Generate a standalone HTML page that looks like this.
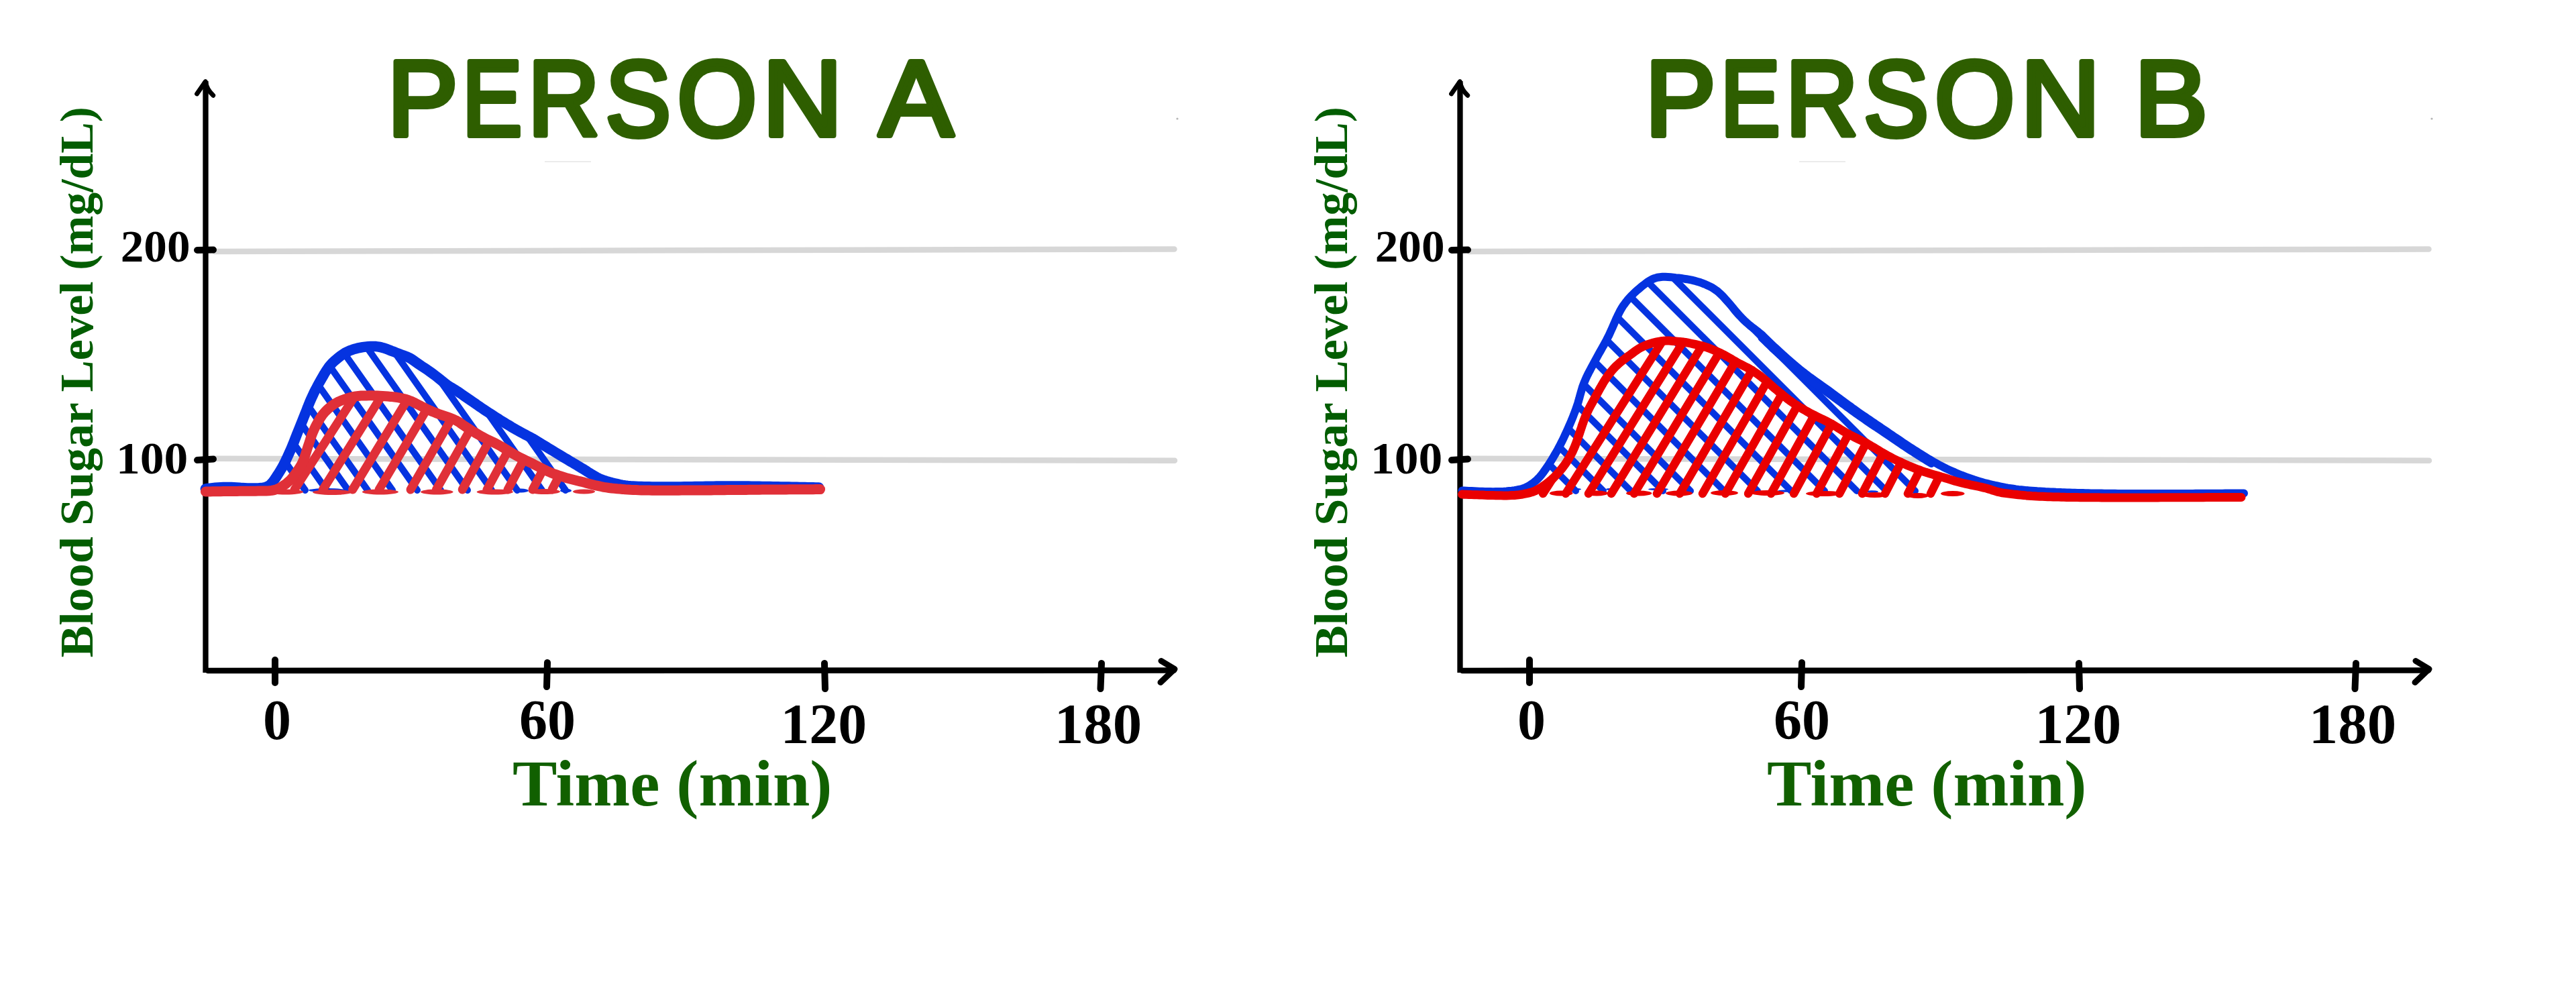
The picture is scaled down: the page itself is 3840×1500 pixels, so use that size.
<!DOCTYPE html>
<html><head><meta charset="utf-8"><title>Person A vs Person B: Blood Sugar</title>
<style>
html,body{margin:0;padding:0;background:#fff;width:3840px;height:1500px;overflow:hidden}
svg{display:block}
.title{font-family:"Liberation Sans",sans-serif;font-weight:normal;fill:#2e5e00;stroke:#2e5e00;stroke-width:8;stroke-linejoin:round;stroke-linecap:round;font-size:160px}
.tick{font-family:"Liberation Serif",serif;font-weight:bold;fill:#000}
.lab{font-family:"Liberation Serif",serif;font-weight:bold;fill:#116000}
.laby{font-family:"Liberation Serif",serif;font-weight:bold;fill:#035d02}
.ax{stroke:#000;stroke-width:8.7;fill:none;stroke-linecap:round;stroke-linejoin:round}
.axy{stroke:#000;stroke-width:8.3;fill:none;stroke-linecap:butt}
.arr{stroke:#000;stroke-width:6.8;fill:none;stroke-linecap:round;stroke-linejoin:round}
.arr2{stroke:#000;stroke-width:9;fill:none;stroke-linecap:round;stroke-linejoin:round}
.tk{stroke:#000;stroke-width:10;fill:none;stroke-linecap:round}
.grid{stroke:#d7d7d7;stroke-width:8.5;stroke-linecap:round}
.faint{stroke:#ebebeb;stroke-width:2}
path.bcA,path.bcB,path.rcA,path.rcB,path.bhA,path.bhB,path.rhA,path.rhB,path.bc2B{fill:none;stroke-linecap:round;stroke-linejoin:round}
.bcA{stroke:#0533e0;stroke-width:15.5}
.bhA{stroke:#0533e0;stroke-width:10}
.rcA{stroke:#e03038;stroke-width:15}
.rhA{stroke:#e03038;stroke-width:13}
.rdA{fill:#e03038}
.bdA{fill:#0533e0}
.bcB{stroke:#0533e0;stroke-width:12}
.bc2B{stroke:#0533e0;stroke-width:10}
.bhB{stroke:#0533e0;stroke-width:10}
.rcB{stroke:#ea0000;stroke-width:13}
.rhB{stroke:#ea0000;stroke-width:12.5}
.rdB{fill:#ea0000}
.bdB{fill:#0533e0}
</style></head>
<body>
<svg width="3840" height="1500" viewBox="0 0 3840 1500">

<g id="staticA">
  <line class="grid" x1="320" y1="375" x2="1750.5" y2="371.5"/>
  <line class="grid" x1="320" y1="683.8" x2="1751" y2="686.7"/>
  <line class="faint" x1="812" y1="241" x2="881" y2="241"/>
  <circle cx="1755" cy="177" r="1.6" fill="#b5b5b5"/>
  <text class="title" y="201.5"><tspan x="577.4" textLength="105.0" lengthAdjust="spacingAndGlyphs">P</tspan><tspan x="689.1" textLength="89.3" lengthAdjust="spacingAndGlyphs">E</tspan><tspan x="787.0" textLength="106.9" lengthAdjust="spacingAndGlyphs">R</tspan><tspan x="902.6" textLength="97.4" lengthAdjust="spacingAndGlyphs">S</tspan><tspan x="1009.4" textLength="118.7" lengthAdjust="spacingAndGlyphs">O</tspan><tspan x="1136.6" textLength="119.4" lengthAdjust="spacingAndGlyphs">N</tspan> <tspan x="1310.5" textLength="110.3" lengthAdjust="spacingAndGlyphs">A</tspan></text>
  <path class="axy" d="M306.5,121 L306.5,1003"/>
  <path class="arr" d="M293.5,140 L306.3,121.5 Q308,133 317.8,142.3"/>
  <path class="ax" d="M310,1000 L1750,999.5"/>
  <path class="arr2" d="M1731,985.5 L1751,997.5 L1730,1017.5"/>
  <path class="tk" d="M294,373 L318,372.5"/>
  <path class="tk" d="M294,686 L318,684.5"/>
  <path class="tk" d="M410,984 L410,1018"/>
  <path class="tk" d="M816,988 L815,1024"/>
  <path class="tk" d="M1229,989 L1230,1027"/>
  <path class="tk" d="M1642,989 L1640.5,1027"/>
  <text class="tick" font-size="68" x="179.7" y="389.5" textLength="103.8" lengthAdjust="spacingAndGlyphs">200</text>
  <text class="tick" font-size="68" x="173" y="705.9" textLength="107.3" lengthAdjust="spacingAndGlyphs">100</text>
  <text class="tick" font-size="84" x="413" y="1102" text-anchor="middle">0</text>
  <text class="tick" font-size="84" x="816" y="1102" text-anchor="middle">60</text>
  <text class="tick" font-size="84" x="1227.8" y="1107.5" text-anchor="middle" textLength="128.8" lengthAdjust="spacingAndGlyphs">120</text>
  <text class="tick" font-size="84" x="1637" y="1107.5" text-anchor="middle" textLength="130.4" lengthAdjust="spacingAndGlyphs">180</text>
  <text class="lab" font-size="97" x="764" y="1201" textLength="476.5" lengthAdjust="spacingAndGlyphs">Time (min)</text>
  <text class="laby" font-size="69.5" transform="translate(137.8,980.6) rotate(-90)" y="0"><tspan x="-0.0" textLength="180.5" lengthAdjust="spacingAndGlyphs">Blood</tspan> <tspan x="196.9" textLength="182.4" lengthAdjust="spacingAndGlyphs">Sugar</tspan> <tspan x="396.0" textLength="164.9" lengthAdjust="spacingAndGlyphs">Level</tspan> <tspan x="577.9" textLength="243.6" lengthAdjust="spacingAndGlyphs">(mg/dL)</tspan></text>
</g>
<g id="curvesA">
<ellipse class="bdA" cx="488.0" cy="731.0" rx="28.0" ry="3.0"/>
<ellipse class="bdA" cx="776.5" cy="731.5" rx="11.5" ry="3.0"/>
<ellipse class="bdA" cx="843.5" cy="731.5" rx="8.5" ry="3.0"/>
<path class="bhA" d="M455.0,731.0 L425.0,688.4"/>
<path class="bhA" d="M487.0,731.0 L437.2,660.4"/>
<path class="bhA" d="M519.0,731.0 L448.8,631.2"/>
<path class="bhA" d="M548.0,731.0 L459.2,605.0"/>
<path class="bhA" d="M585.0,731.0 L474.0,573.4"/>
<path class="bhA" d="M622.0,731.0 L491.2,545.3"/>
<path class="bhA" d="M657.0,731.0 L513.2,526.9"/>
<path class="bhA" d="M697.0,731.0 L546.2,516.9"/>
<path class="bhA" d="M733.0,731.0 L587.8,524.7"/>
<path class="bhA" d="M771.0,731.0 L652.5,562.7"/>
<path class="bhA" d="M808.0,731.0 L724.8,612.8"/>
<path class="bhA" d="M843.0,731.0 L785.2,649.0"/>
<path class="bcA" d="M306.3,728.9 L309.2,728.5 L313.0,728.1 L316.9,727.7 L320.9,727.3 L324.9,727.0 L328.9,726.8 L332.9,726.6 L336.9,726.5 L340.9,726.5 L344.9,726.5 L348.9,726.7 L352.9,726.9 L356.9,727.2 L360.9,727.6 L364.9,727.8 L368.9,728.0 L372.9,728.1 L376.9,728.1 L380.9,728.1 L384.9,727.9 L388.9,727.6 L392.9,727.1 L396.7,726.2 L400.3,724.6 L403.4,722.3 L406.1,719.3 L408.5,716.1 L410.8,712.8 L412.9,709.5 L415.1,706.1 L417.2,702.7 L419.3,699.3 L421.3,695.8 L423.2,692.3 L425.0,688.7 L426.7,685.1 L428.4,681.5 L430.1,677.8 L431.7,674.2 L433.4,670.5 L434.9,666.9 L436.5,663.2 L438.0,659.4 L439.4,655.7 L440.9,652.0 L442.3,648.3 L443.8,644.5 L445.3,640.8 L446.8,637.1 L448.3,633.4 L449.8,629.7 L451.3,626.0 L452.8,622.2 L454.3,618.5 L455.7,614.8 L457.2,611.1 L458.6,607.3 L460.1,603.6 L461.6,599.9 L463.2,596.2 L464.8,592.6 L466.5,588.9 L468.2,585.3 L470.0,581.7 L471.9,578.2 L473.7,574.6 L475.6,571.1 L477.6,567.6 L479.6,564.1 L481.6,560.7 L483.6,557.2 L485.7,553.8 L487.9,550.5 L490.2,547.2 L492.7,544.1 L495.4,541.1 L498.3,538.4 L501.3,535.8 L504.4,533.2 L507.6,530.8 L510.8,528.5 L514.2,526.3 L517.8,524.5 L521.4,522.8 L525.2,521.4 L529.0,520.2 L532.8,519.2 L536.8,518.4 L540.7,517.7 L544.7,517.1 L548.6,516.7 L552.6,516.4 L556.6,516.4 L560.6,516.6 L564.6,517.1 L568.5,517.9 L572.4,518.9 L576.1,520.3 L579.9,521.7 L583.6,523.2 L587.3,524.6 L591.1,526.1 L594.8,527.5 L598.5,528.9 L602.3,530.3 L606.0,531.7 L609.7,533.3 L613.2,535.3 L616.5,537.5 L619.8,539.8 L623.0,542.1 L626.3,544.4 L629.6,546.6 L633.0,548.8 L636.4,551.0 L639.7,553.3 L642.9,555.6 L646.1,558.0 L649.3,560.4 L652.5,562.9 L655.6,565.4 L658.7,567.9 L661.8,570.4 L665.0,572.9 L668.2,575.2 L671.6,577.3 L675.1,579.3 L678.5,581.4 L681.9,583.5 L685.2,585.7 L688.5,588.0 L691.8,590.3 L695.1,592.6 L698.4,594.9 L701.7,597.2 L705.0,599.4 L708.3,601.7 L711.6,604.0 L714.9,606.2 L718.2,608.5 L721.5,610.7 L724.9,612.9 L728.2,615.1 L731.6,617.3 L734.9,619.5 L738.3,621.7 L741.7,623.8 L745.0,626.0 L748.4,628.1 L751.8,630.2 L755.3,632.3 L758.7,634.3 L762.1,636.4 L765.6,638.4 L769.1,640.4 L772.5,642.4 L776.1,644.3 L779.6,646.2 L783.1,648.1 L786.7,650.0 L790.2,651.9 L793.7,653.8 L797.1,655.8 L800.6,657.9 L804.0,659.9 L807.4,662.0 L810.8,664.1 L814.2,666.2 L817.7,668.3 L821.1,670.4 L824.5,672.4 L827.9,674.5 L831.4,676.6 L834.8,678.7 L838.2,680.7 L841.7,682.8 L845.1,684.8 L848.5,686.9 L852.0,688.9 L855.4,691.0 L858.9,693.0 L862.3,695.1 L865.7,697.2 L869.2,699.2 L872.6,701.3 L875.9,703.5 L879.3,705.6 L882.7,707.8 L886.1,709.8 L889.6,711.8 L893.2,713.5 L896.9,715.1 L900.7,716.5 L904.5,717.7 L908.3,718.8 L912.2,719.8 L916.1,720.7 L920.0,721.6 L923.9,722.5 L927.8,723.3 L931.8,723.9 L935.8,724.4 L939.7,724.8 L943.7,725.0 L947.7,725.2 L951.7,725.4 L955.7,725.5 L959.7,725.7 L963.7,725.7 L967.7,725.8 L971.7,725.9 L975.8,725.9 L979.8,725.9 L983.8,726.0 L987.8,726.0 L991.8,726.0 L995.8,726.0 L999.8,726.0 L1003.8,726.0 L1007.8,726.0 L1011.8,725.9 L1015.8,725.9 L1019.8,725.8 L1023.8,725.8 L1027.8,725.7 L1031.8,725.7 L1035.8,725.6 L1039.8,725.5 L1043.8,725.5 L1047.8,725.4 L1051.8,725.3 L1055.8,725.3 L1059.8,725.2 L1063.8,725.2 L1067.8,725.1 L1071.9,725.1 L1075.9,725.1 L1079.9,725.0 L1083.9,725.0 L1087.9,725.0 L1091.9,725.0 L1095.9,725.0 L1099.9,725.0 L1103.9,725.0 L1107.9,725.1 L1111.9,725.1 L1115.9,725.1 L1119.9,725.2 L1123.9,725.2 L1127.9,725.3 L1131.9,725.3 L1135.9,725.4 L1139.9,725.5 L1143.9,725.5 L1147.9,725.6 L1151.9,725.7 L1155.9,725.7 L1159.9,725.8 L1163.9,725.9 L1168.0,726.0 L1172.0,726.0 L1176.0,726.1 L1180.0,726.2 L1184.0,726.3 L1188.0,726.3 L1192.0,726.4 L1196.0,726.5 L1200.0,726.6 L1204.0,726.7 L1208.0,726.7 L1212.0,726.8 L1215.9,726.9 L1219.4,727.0 L1220.6,727.0"/>
<path class="rhA" d="M439.0,730.0 L528.8,590.9"/>
<path class="rhA" d="M481.3,730.0 L569.0,590.1"/>
<path class="rhA" d="M525.6,730.0 L607.4,595.9"/>
<path class="rhA" d="M565.0,730.0 L636.5,609.8"/>
<path class="rhA" d="M612.0,730.0 L673.2,624.0"/>
<path class="rhA" d="M650.4,730.0 L700.9,640.6"/>
<path class="rhA" d="M689.2,730.0 L729.7,656.7"/>
<path class="rhA" d="M726.0,730.0 L757.5,671.8"/>
<path class="rhA" d="M757.0,730.0 L781.0,684.9"/>
<path class="rhA" d="M794.0,730.0 L810.0,699.3"/>
<path class="rhA" d="M823.0,730.0 L833.8,709.0"/>
<ellipse class="rdA" cx="426.0" cy="733.5" rx="26.0" ry="4.0"/>
<ellipse class="rdA" cx="495.0" cy="734.0" rx="29.0" ry="4.0"/>
<ellipse class="rdA" cx="566.9" cy="733.5" rx="27.1" ry="4.0"/>
<ellipse class="rdA" cx="651.3" cy="733.5" rx="24.3" ry="4.0"/>
<ellipse class="rdA" cx="737.8" cy="733.5" rx="27.2" ry="4.0"/>
<ellipse class="rdA" cx="811.5" cy="733.0" rx="23.5" ry="4.0"/>
<ellipse class="rdA" cx="870.5" cy="733.0" rx="16.5" ry="3.5"/>
<path class="rcA" d="M306.4,733.0 L309.2,732.9 L313.0,732.9 L317.0,732.8 L321.0,732.8 L325.0,732.7 L329.0,732.7 L333.0,732.6 L337.0,732.6 L341.0,732.5 L345.0,732.5 L349.0,732.4 L353.0,732.4 L357.0,732.3 L361.0,732.3 L365.0,732.3 L369.0,732.3 L373.0,732.2 L377.0,732.2 L381.0,732.2 L385.0,732.1 L389.0,732.1 L393.0,732.0 L397.0,731.9 L401.0,731.8 L405.0,731.4 L408.9,730.6 L412.7,729.4 L416.3,727.8 L419.8,725.8 L423.1,723.6 L426.4,721.3 L429.4,718.7 L432.4,716.0 L435.1,713.1 L437.6,709.9 L440.0,706.8 L442.3,703.5 L444.6,700.2 L446.8,696.9 L448.9,693.5 L450.7,689.9 L452.3,686.3 L453.7,682.5 L455.0,678.7 L456.2,674.9 L457.4,671.1 L458.6,667.3 L459.9,663.5 L461.1,659.7 L462.3,655.9 L463.5,652.1 L464.9,648.3 L466.4,644.6 L468.0,640.9 L469.7,637.3 L471.5,633.8 L473.4,630.2 L475.4,626.7 L477.5,623.3 L479.7,620.0 L482.1,616.8 L484.7,613.8 L487.6,611.0 L490.5,608.3 L493.6,605.8 L496.8,603.4 L500.2,601.3 L503.7,599.4 L507.3,597.7 L511.0,596.2 L514.8,594.8 L518.6,593.6 L522.5,592.5 L526.4,591.6 L530.3,590.9 L534.3,590.4 L538.2,590.1 L542.2,590.0 L546.2,589.9 L550.2,589.8 L554.2,589.8 L558.2,589.9 L562.2,590.1 L566.2,590.3 L570.2,590.5 L574.2,590.8 L578.2,591.1 L582.2,591.4 L586.2,591.8 L590.1,592.3 L594.1,592.9 L598.0,593.7 L601.9,594.6 L605.8,595.6 L609.6,596.9 L613.3,598.3 L616.9,600.0 L620.5,601.9 L624.0,603.7 L627.6,605.5 L631.1,607.4 L634.7,609.1 L638.3,610.9 L642.0,612.5 L645.7,614.1 L649.4,615.5 L653.1,617.0 L656.9,618.3 L660.7,619.6 L664.5,620.9 L668.2,622.2 L672.0,623.6 L675.7,625.0 L679.4,626.7 L682.9,628.6 L686.2,630.8 L689.4,633.1 L692.7,635.4 L696.1,637.6 L699.5,639.7 L702.9,641.8 L706.3,643.9 L709.7,646.0 L713.1,648.0 L716.6,650.0 L720.1,651.9 L723.7,653.8 L727.2,655.6 L730.9,657.3 L734.5,659.0 L738.1,660.8 L741.6,662.6 L745.1,664.5 L748.6,666.5 L752.0,668.6 L755.4,670.7 L758.8,672.9 L762.2,675.0 L765.6,677.0 L769.1,679.0 L772.6,680.9 L776.2,682.7 L779.8,684.5 L783.4,686.3 L787.0,688.0 L790.6,689.7 L794.2,691.5 L797.7,693.3 L801.3,695.2 L804.8,697.0 L808.4,698.8 L812.0,700.6 L815.6,702.3 L819.3,703.9 L823.0,705.5 L826.7,706.9 L830.5,708.2 L834.2,709.5 L838.1,710.7 L841.9,711.9 L845.7,713.1 L849.6,714.1 L853.5,715.1 L857.3,716.0 L861.2,717.0 L865.1,717.9 L869.0,718.8 L872.9,719.9 L876.8,720.9 L880.6,721.9 L884.5,722.9 L888.4,723.9 L892.3,724.7 L896.2,725.5 L900.1,726.3 L904.1,726.9 L908.0,727.5 L912.0,728.0 L916.0,728.4 L920.0,728.8 L924.0,729.1 L928.0,729.4 L931.9,729.8 L935.9,730.0 L939.9,730.3 L943.9,730.5 L947.9,730.6 L951.9,730.8 L955.9,730.9 L959.9,731.0 L963.9,731.1 L967.9,731.1 L971.9,731.2 L975.9,731.2 L979.9,731.2 L983.9,731.2 L987.9,731.2 L991.9,731.2 L995.9,731.2 L999.9,731.2 L1003.9,731.2 L1007.9,731.2 L1011.9,731.2 L1015.9,731.1 L1019.9,731.1 L1023.9,731.1 L1027.9,731.1 L1031.9,731.0 L1035.9,731.0 L1039.9,731.0 L1043.9,731.0 L1047.9,731.0 L1051.9,730.9 L1055.9,730.9 L1059.9,730.9 L1064.0,730.8 L1068.0,730.8 L1072.0,730.8 L1076.0,730.7 L1080.0,730.7 L1084.0,730.6 L1088.0,730.6 L1092.0,730.6 L1096.0,730.5 L1100.0,730.5 L1104.0,730.4 L1108.0,730.4 L1112.0,730.4 L1116.0,730.3 L1120.0,730.3 L1124.0,730.2 L1128.0,730.2 L1132.0,730.2 L1136.0,730.1 L1140.0,730.1 L1144.0,730.0 L1148.0,730.0 L1152.0,730.0 L1156.0,730.0 L1160.0,729.9 L1164.0,729.9 L1168.0,729.9 L1172.0,729.9 L1176.0,729.8 L1180.0,729.8 L1184.0,729.8 L1188.0,729.8 L1192.0,729.7 L1196.0,729.7 L1200.0,729.7 L1204.0,729.7 L1208.0,729.7 L1212.0,729.7 L1216.0,729.6 L1219.8,729.6 L1222.6,729.6"/>
</g>

<g id="staticB">
  <line class="grid" x1="2190" y1="375" x2="3620.5" y2="371.5"/>
  <line class="grid" x1="2190" y1="683.8" x2="3621" y2="686.7"/>
  <line class="faint" x1="2682" y1="241" x2="2751" y2="241"/>
  <circle cx="3625" cy="177" r="1.6" fill="#b5b5b5"/>
  <text class="title" y="201.5"><tspan x="2452.6" textLength="105.0" lengthAdjust="spacingAndGlyphs">P</tspan><tspan x="2564.7" textLength="88.8" lengthAdjust="spacingAndGlyphs">E</tspan><tspan x="2661.8" textLength="108.2" lengthAdjust="spacingAndGlyphs">R</tspan><tspan x="2778.1" textLength="96.9" lengthAdjust="spacingAndGlyphs">S</tspan><tspan x="2884.0" textLength="119.3" lengthAdjust="spacingAndGlyphs">O</tspan><tspan x="3012.1" textLength="118.8" lengthAdjust="spacingAndGlyphs">N</tspan> <tspan x="3181.7" textLength="109.2" lengthAdjust="spacingAndGlyphs">B</tspan></text>
  <path class="axy" d="M2176.5,121 L2176.5,1003"/>
  <path class="arr" d="M2163.5,140 L2176.3,121.5 Q2178,133 2187.8,142.3"/>
  <path class="ax" d="M2180,1000 L3620,999.5"/>
  <path class="arr2" d="M3601,985.5 L3621,997.5 L3600,1017.5"/>
  <path class="tk" d="M2164,373 L2188,372.5"/>
  <path class="tk" d="M2164,686 L2188,684.5"/>
  <path class="tk" d="M2280,984 L2280,1018"/>
  <path class="tk" d="M2686,988 L2685,1024"/>
  <path class="tk" d="M3099,989 L3100,1027"/>
  <path class="tk" d="M3512,989 L3510.5,1027"/>
  <text class="tick" font-size="68" x="2049.7" y="389.5" textLength="103.8" lengthAdjust="spacingAndGlyphs">200</text>
  <text class="tick" font-size="68" x="2043" y="705.9" textLength="107.3" lengthAdjust="spacingAndGlyphs">100</text>
  <text class="tick" font-size="84" x="2283" y="1102" text-anchor="middle">0</text>
  <text class="tick" font-size="84" x="2686" y="1102" text-anchor="middle">60</text>
  <text class="tick" font-size="84" x="3097.8" y="1107.5" text-anchor="middle" textLength="128.8" lengthAdjust="spacingAndGlyphs">120</text>
  <text class="tick" font-size="84" x="3507" y="1107.5" text-anchor="middle" textLength="130.4" lengthAdjust="spacingAndGlyphs">180</text>
  <text class="lab" font-size="97" x="2634" y="1201" textLength="476.5" lengthAdjust="spacingAndGlyphs">Time (min)</text>
  <text class="laby" font-size="69.5" transform="translate(2007.8,980.6) rotate(-90)" y="0"><tspan x="-0.0" textLength="180.5" lengthAdjust="spacingAndGlyphs">Blood</tspan> <tspan x="196.9" textLength="182.4" lengthAdjust="spacingAndGlyphs">Sugar</tspan> <tspan x="396.0" textLength="164.9" lengthAdjust="spacingAndGlyphs">Level</tspan> <tspan x="577.9" textLength="243.6" lengthAdjust="spacingAndGlyphs">(mg/dL)</tspan></text>
</g>
<g id="curvesB">
<ellipse class="bdB" cx="2347.0" cy="729.5" rx="10.0" ry="1.8"/>
<ellipse class="bdB" cx="2402.0" cy="729.5" rx="8.0" ry="1.8"/>
<ellipse class="bdB" cx="2472.0" cy="729.5" rx="15.0" ry="1.8"/>
<ellipse class="bdB" cx="2665.0" cy="732.0" rx="15.0" ry="1.8"/>
<ellipse class="bdB" cx="2790.0" cy="733.0" rx="10.0" ry="1.8"/>
<path class="bhB" d="M2349.0,732.0 L2309.0,692.0"/>
<path class="bhB" d="M2390.0,732.0 L2324.0,666.0"/>
<path class="bhB" d="M2431.0,732.0 L2337.5,638.5"/>
<path class="bhB" d="M2479.0,732.0 L2351.0,604.0"/>
<path class="bhB" d="M2520.0,732.0 L2360.5,572.5"/>
<path class="bhB" d="M2570.0,732.0 L2377.0,539.0"/>
<path class="bhB" d="M2620.0,732.0 L2394.8,506.8"/>
<path class="bhB" d="M2670.0,732.0 L2410.5,472.5"/>
<path class="bhB" d="M2720.0,732.0 L2430.5,442.5"/>
<path class="bhB" d="M2768.0,732.0 L2456.2,420.2"/>
<path class="bhB" d="M2812.0,732.0 L2493.5,413.5"/>
<path class="bhB" d="M2855.0,732.0 L2607.0,484.0"/>
<path class="bcB" d="M2179.6,731.4 L2182.2,731.5 L2185.7,731.7 L2189.6,731.9 L2193.6,732.1 L2197.6,732.3 L2201.6,732.5 L2205.6,732.7 L2209.6,732.8 L2213.6,733.0 L2217.6,733.1 L2221.6,733.1 L2225.6,733.2 L2229.6,733.1 L2233.6,733.0 L2237.6,732.9 L2241.6,732.7 L2245.6,732.4 L2249.6,732.0 L2253.5,731.6 L2257.5,731.1 L2261.5,730.5 L2265.4,729.7 L2269.2,728.7 L2273.0,727.4 L2276.6,725.7 L2280.1,723.8 L2283.4,721.6 L2286.6,719.2 L2289.7,716.7 L2292.6,713.9 L2295.3,711.0 L2297.8,707.9 L2300.3,704.8 L2302.6,701.5 L2304.9,698.2 L2307.2,694.9 L2309.3,691.6 L2311.5,688.2 L2313.6,684.8 L2315.7,681.3 L2317.7,677.9 L2319.7,674.4 L2321.7,671.0 L2323.6,667.4 L2325.5,663.9 L2327.3,660.3 L2329.1,656.8 L2330.8,653.2 L2332.5,649.5 L2334.2,645.9 L2335.9,642.3 L2337.5,638.6 L2339.1,635.0 L2340.7,631.3 L2342.3,627.6 L2343.8,623.9 L2345.3,620.2 L2346.7,616.5 L2348.2,612.7 L2349.5,609.0 L2350.8,605.2 L2352.1,601.4 L2353.2,597.5 L2354.3,593.7 L2355.3,589.8 L2356.4,586.0 L2357.5,582.1 L2358.6,578.3 L2359.9,574.5 L2361.3,570.8 L2362.9,567.1 L2364.5,563.4 L2366.2,559.8 L2368.0,556.2 L2369.9,552.7 L2371.7,549.1 L2373.6,545.6 L2375.5,542.1 L2377.4,538.5 L2379.3,535.0 L2381.2,531.5 L2383.1,528.0 L2385.1,524.5 L2387.1,521.0 L2389.0,517.5 L2391.0,514.1 L2392.9,510.5 L2394.8,507.0 L2396.6,503.4 L2398.4,499.9 L2400.1,496.2 L2401.7,492.6 L2403.4,488.9 L2405.0,485.3 L2406.6,481.6 L2408.2,477.9 L2409.8,474.3 L2411.5,470.7 L2413.3,467.1 L2415.1,463.5 L2417.1,460.0 L2419.2,456.6 L2421.5,453.4 L2423.9,450.2 L2426.4,447.1 L2429.1,444.1 L2431.8,441.2 L2434.6,438.3 L2437.5,435.5 L2440.4,432.9 L2443.5,430.3 L2446.6,427.7 L2449.7,425.2 L2452.9,422.8 L2456.1,420.4 L2459.4,418.3 L2463.0,416.4 L2466.6,414.9 L2470.4,413.8 L2474.4,413.2 L2478.3,412.8 L2482.3,412.7 L2486.3,412.9 L2490.3,413.2 L2494.3,413.6 L2498.2,414.1 L2502.2,414.5 L2506.2,415.0 L2510.1,415.6 L2514.1,416.2 L2518.0,416.9 L2522.0,417.7 L2525.8,418.6 L2529.7,419.7 L2533.5,420.8 L2537.3,422.1 L2541.0,423.6 L2544.7,425.2 L2548.3,426.9 L2551.9,428.7 L2555.3,430.8 L2558.5,433.1 L2561.7,435.6 L2564.6,438.2 L2567.5,441.1 L2570.2,443.9 L2572.9,446.9 L2575.6,449.9 L2578.2,452.9 L2580.8,456.0 L2583.3,459.1 L2585.8,462.2 L2588.4,465.2 L2591.0,468.2 L2593.7,471.2 L2596.5,474.1 L2599.3,476.9 L2602.2,479.7 L2605.2,482.4 L2608.2,485.0 L2611.3,487.5 L2614.5,489.9 L2617.7,492.3 L2620.9,494.8 L2624.0,497.3 L2627.0,499.9 L2629.9,502.7 L2632.7,505.5 L2635.5,508.3 L2638.4,511.1 L2641.3,513.9 L2644.2,516.6 L2647.2,519.3 L2650.1,522.0 L2653.1,524.7 L2656.1,527.4 L2659.0,530.1 L2662.0,532.7 L2665.0,535.4 L2668.0,538.0 L2671.0,540.7 L2674.1,543.3 L2677.1,545.9 L2680.2,548.4 L2683.3,551.0 L2686.4,553.5 L2689.6,555.9 L2692.7,558.4 L2695.9,560.8 L2699.2,563.1 L2702.4,565.5 L2705.7,567.8 L2708.9,570.1 L2712.2,572.4 L2715.5,574.8 L2718.7,577.1 L2722.0,579.4 L2725.2,581.7 L2728.5,584.1 L2731.7,586.5 L2734.9,588.8 L2738.1,591.2 L2741.4,593.6 L2744.6,596.0 L2747.8,598.3 L2751.0,600.7 L2754.2,603.1 L2757.5,605.4 L2760.7,607.8 L2764.0,610.1 L2767.2,612.5 L2770.5,614.8 L2773.8,617.1 L2777.1,619.4 L2780.4,621.6 L2783.7,623.9 L2787.0,626.1 L2790.3,628.4 L2793.6,630.6 L2796.9,632.9 L2800.2,635.1 L2803.6,637.3 L2806.9,639.6 L2810.2,641.8 L2813.5,644.0 L2816.8,646.3 L2820.1,648.5 L2823.4,650.8 L2826.7,653.0 L2830.1,655.3 L2833.4,657.5 L2836.7,659.8 L2840.0,662.0 L2843.4,664.2 L2846.7,666.4 L2850.1,668.6 L2853.4,670.7 L2856.8,672.9 L2860.2,675.0 L2863.6,677.1 L2867.0,679.3 L2870.4,681.4 L2873.8,683.5 L2877.2,685.5 L2880.7,687.6 L2884.1,689.6 L2887.6,691.5 L2891.1,693.4 L2894.7,695.3 L2898.2,697.1 L2901.8,698.9 L2905.5,700.6 L2909.1,702.2 L2912.8,703.8 L2916.4,705.4 L2920.1,707.0 L2923.8,708.5 L2927.6,709.9 L2931.3,711.3 L2935.1,712.7 L2938.8,714.0 L2942.6,715.3 L2946.4,716.5 L2950.3,717.7 L2954.1,718.8 L2958.0,719.9 L2961.8,720.9 L2965.7,721.9 L2969.6,722.8 L2973.5,723.7 L2977.4,724.5 L2981.4,725.3 L2985.3,726.1 L2989.2,726.9 L2993.1,727.6 L2997.1,728.2 L3001.1,728.8 L3005.0,729.4 L3009.0,729.9 L3013.0,730.3 L3017.0,730.7 L3020.9,731.1 L3024.9,731.4 L3028.9,731.7 L3032.9,732.0 L3036.9,732.3 L3040.9,732.5 L3044.9,732.7 L3048.9,733.0 L3052.9,733.2 L3056.9,733.4 L3060.9,733.6 L3064.9,733.8 L3068.9,733.9 L3072.9,734.1 L3076.9,734.2 L3080.9,734.4 L3084.9,734.5 L3088.9,734.7 L3092.9,734.8 L3096.9,734.9 L3100.9,735.0 L3104.9,735.1 L3108.9,735.2 L3112.9,735.3 L3116.9,735.4 L3120.9,735.5 L3124.9,735.5 L3128.9,735.6 L3132.9,735.6 L3136.9,735.7 L3140.9,735.7 L3144.9,735.8 L3148.9,735.8 L3152.9,735.8 L3156.9,735.9 L3160.9,735.9 L3164.9,735.9 L3168.9,735.9 L3172.9,735.9 L3176.9,735.9 L3180.9,736.0 L3184.9,736.0 L3188.9,736.0 L3192.9,736.0 L3196.9,736.0 L3200.9,736.0 L3204.9,736.0 L3208.9,736.0 L3212.9,736.0 L3216.9,736.0 L3220.9,736.0 L3224.9,736.0 L3228.9,736.0 L3232.9,736.0 L3236.9,736.0 L3240.9,736.0 L3244.9,735.9 L3248.9,735.9 L3252.9,735.9 L3257.0,735.9 L3261.0,735.9 L3265.0,735.9 L3269.0,735.9 L3273.0,735.8 L3277.0,735.8 L3281.0,735.8 L3285.0,735.8 L3289.0,735.8 L3293.0,735.8 L3297.0,735.7 L3301.0,735.7 L3305.0,735.7 L3309.0,735.7 L3313.0,735.7 L3317.0,735.6 L3321.0,735.6 L3325.0,735.6 L3329.0,735.6 L3333.0,735.6 L3337.0,735.5 L3340.7,735.5 L3343.9,735.5 L3345.0,735.5"/>
<path class="bc2B" d="M2625.5,504.1 L2628.4,506.8 L2631.3,509.6 L2634.1,512.4 L2637.0,515.2 L2639.8,518.0 L2642.7,520.8 L2645.7,523.5 L2648.7,526.2 L2651.6,528.9 L2654.6,531.5 L2657.6,534.2 L2660.5,536.9 L2663.5,539.6 L2666.5,542.2 L2669.5,544.8 L2672.6,547.5 L2675.6,550.1 L2678.7,552.7 L2681.7,555.2 L2684.8,557.7 L2688.0,560.2 L2691.1,562.7 L2694.3,565.1 L2697.6,567.5 L2700.8,569.8 L2704.0,572.2 L2707.3,574.5 L2710.6,576.8 L2713.8,579.1 L2717.1,581.4 L2720.4,583.7 L2723.6,586.1 L2726.9,588.4 L2730.1,590.8 L2733.3,593.1 L2736.5,595.5 L2739.8,597.9 L2743.0,600.3 L2746.2,602.7 L2749.4,605.0 L2752.6,607.4 L2755.9,609.8 L2759.1,612.1 L2762.3,614.5 L2765.6,616.8 L2768.9,619.1 L2772.1,621.4 L2775.4,623.7 L2778.7,626.0 L2782.0,628.3 L2785.3,630.5 L2788.6,632.8 L2791.9,635.0 L2795.3,637.2 L2798.6,639.5 L2801.9,641.7 L2805.2,643.9 L2808.5,646.2 L2811.8,648.4 L2815.2,650.7 L2818.5,652.9 L2821.8,655.2 L2825.1,657.4 L2828.4,659.7 L2831.7,661.9 L2835.0,664.2 L2838.4,666.4 L2841.7,668.6 L2845.0,670.8 L2848.4,673.0 L2851.8,675.1 L2855.1,677.3 L2858.5,679.4 L2861.9,681.6 L2865.3,683.7 L2868.7,685.8 L2872.1,687.9 L2875.5,690.0 L2878.9,692.1"/>
<path class="rhB" d="M2300.0,736.0 L2314.5,713.5"/>
<path class="rhB" d="M2334.0,736.0 L2478.5,508.2"/>
<path class="rhB" d="M2368.0,736.0 L2509.0,510.0"/>
<path class="rhB" d="M2402.0,736.0 L2537.2,515.7"/>
<path class="rhB" d="M2436.0,736.0 L2563.0,525.7"/>
<path class="rhB" d="M2470.0,736.0 L2587.2,538.8"/>
<path class="rhB" d="M2504.0,736.0 L2611.8,551.9"/>
<path class="rhB" d="M2538.0,736.0 L2634.2,569.0"/>
<path class="rhB" d="M2572.0,736.0 L2656.2,587.6"/>
<path class="rhB" d="M2606.0,736.0 L2679.5,604.6"/>
<path class="rhB" d="M2640.0,736.0 L2704.5,619.0"/>
<path class="rhB" d="M2674.0,736.0 L2730.5,632.0"/>
<path class="rhB" d="M2708.0,736.0 L2755.8,646.9"/>
<path class="rhB" d="M2742.0,736.0 L2782.0,660.3"/>
<path class="rhB" d="M2776.0,736.0 L2807.5,675.5"/>
<path class="rhB" d="M2810.0,736.0 L2834.0,689.3"/>
<path class="rhB" d="M2844.0,736.0 L2861.8,701.0"/>
<path class="rhB" d="M2878.0,736.0 L2891.0,710.0"/>
<ellipse class="rdB" cx="2327.2" cy="735.5" rx="17.4" ry="4.0"/>
<ellipse class="rdB" cx="2380.4" cy="735.5" rx="16.6" ry="4.0"/>
<ellipse class="rdB" cx="2443.2" cy="735.5" rx="19.2" ry="4.0"/>
<ellipse class="rdB" cx="2503.0" cy="735.5" rx="20.0" ry="4.0"/>
<ellipse class="rdB" cx="2570.5" cy="735.0" rx="20.5" ry="4.0"/>
<ellipse class="rdB" cx="2635.0" cy="735.0" rx="25.0" ry="4.0"/>
<ellipse class="rdB" cx="2719.0" cy="736.0" rx="27.0" ry="4.0"/>
<ellipse class="rdB" cx="2794.5" cy="738.0" rx="19.5" ry="4.0"/>
<ellipse class="rdB" cx="2859.0" cy="739.0" rx="16.0" ry="4.0"/>
<ellipse class="rdB" cx="2910.8" cy="736.0" rx="17.8" ry="4.0"/>
<path class="rcB" d="M2179.6,737.1 L2182.2,737.2 L2185.7,737.3 L2189.6,737.4 L2193.6,737.6 L2197.6,737.7 L2201.6,737.8 L2205.6,738.0 L2209.6,738.1 L2213.6,738.3 L2217.6,738.4 L2221.6,738.5 L2225.6,738.6 L2229.6,738.7 L2233.7,738.8 L2237.7,738.8 L2241.7,738.9 L2245.7,738.9 L2249.7,738.8 L2253.7,738.6 L2257.7,738.4 L2261.7,738.1 L2265.6,737.6 L2269.6,737.0 L2273.5,736.2 L2277.4,735.4 L2281.3,734.4 L2285.1,733.2 L2288.8,731.7 L2292.3,729.9 L2295.8,727.8 L2299.2,725.7 L2302.5,723.4 L2305.7,721.1 L2308.8,718.6 L2311.9,716.0 L2314.9,713.3 L2317.7,710.5 L2320.5,707.6 L2323.2,704.6 L2325.7,701.6 L2328.3,698.5 L2330.7,695.3 L2333.1,692.1 L2335.3,688.8 L2337.5,685.4 L2339.6,682.0 L2341.5,678.5 L2343.4,675.0 L2345.1,671.3 L2346.7,667.7 L2348.2,664.0 L2349.7,660.2 L2351.0,656.5 L2352.3,652.7 L2353.6,648.9 L2354.9,645.1 L2356.1,641.3 L2357.4,637.5 L2358.6,633.7 L2360.0,629.9 L2361.3,626.1 L2362.8,622.4 L2364.4,618.7 L2366.0,615.0 L2367.7,611.4 L2369.5,607.9 L2371.4,604.3 L2373.3,600.8 L2375.2,597.3 L2377.1,593.8 L2379.1,590.2 L2381.0,586.7 L2382.9,583.2 L2384.8,579.7 L2386.8,576.2 L2388.8,572.7 L2390.8,569.3 L2393.0,565.9 L2395.2,562.6 L2397.5,559.3 L2400.0,556.2 L2402.5,553.0 L2405.1,550.0 L2407.9,547.1 L2410.7,544.3 L2413.7,541.7 L2416.8,539.1 L2419.9,536.6 L2423.1,534.2 L2426.3,531.8 L2429.6,529.4 L2432.8,527.1 L2436.0,524.7 L2439.3,522.4 L2442.6,520.2 L2446.1,518.2 L2449.7,516.4 L2453.3,514.8 L2457.1,513.4 L2460.9,512.2 L2464.7,511.1 L2468.6,510.2 L2472.5,509.3 L2476.5,508.6 L2480.4,508.2 L2484.4,508.0 L2488.4,508.1 L2492.4,508.4 L2496.4,508.7 L2500.4,509.1 L2504.3,509.5 L2508.3,510.0 L2512.3,510.5 L2516.2,511.2 L2520.2,512.0 L2524.1,512.8 L2528.0,513.7 L2531.9,514.6 L2535.8,515.5 L2539.7,516.6 L2543.5,517.7 L2547.3,519.0 L2551.0,520.5 L2554.7,522.0 L2558.4,523.6 L2562.0,525.3 L2565.6,527.0 L2569.2,528.8 L2572.7,530.7 L2576.2,532.6 L2579.7,534.6 L2583.1,536.7 L2586.6,538.8 L2590.0,540.8 L2593.6,542.7 L2597.1,544.4 L2600.7,546.2 L2604.3,548.0 L2607.8,550.0 L2611.2,552.0 L2614.6,554.2 L2618.0,556.4 L2621.3,558.6 L2624.5,561.0 L2627.6,563.5 L2630.7,566.0 L2633.7,568.7 L2636.7,571.4 L2639.7,574.0 L2642.7,576.7 L2645.7,579.3 L2648.8,581.8 L2651.9,584.4 L2655.0,587.0 L2658.1,589.5 L2661.2,592.0 L2664.3,594.5 L2667.5,596.9 L2670.8,599.2 L2674.1,601.5 L2677.4,603.7 L2680.8,605.9 L2684.2,608.0 L2687.7,610.0 L2691.1,612.0 L2694.6,614.0 L2698.1,615.9 L2701.7,617.8 L2705.2,619.6 L2708.8,621.4 L2712.4,623.1 L2716.1,624.8 L2719.7,626.6 L2723.2,628.4 L2726.8,630.3 L2730.3,632.2 L2733.7,634.2 L2737.2,636.3 L2740.6,638.4 L2744.0,640.5 L2747.4,642.6 L2750.8,644.6 L2754.3,646.6 L2757.8,648.5 L2761.4,650.3 L2765.0,652.1 L2768.6,653.9 L2772.2,655.7 L2775.8,657.4 L2779.3,659.3 L2782.9,661.2 L2786.3,663.1 L2789.8,665.2 L2793.2,667.2 L2796.6,669.3 L2800.1,671.4 L2803.5,673.5 L2806.9,675.5 L2810.4,677.5 L2813.9,679.4 L2817.5,681.3 L2821.0,683.2 L2824.6,685.0 L2828.2,686.8 L2831.8,688.5 L2835.4,690.2 L2839.1,691.9 L2842.7,693.5 L2846.4,695.1 L2850.1,696.6 L2853.8,698.1 L2857.6,699.5 L2861.3,700.9 L2865.1,702.3 L2868.9,703.6 L2872.7,704.8 L2876.5,705.9 L2880.4,707.1 L2884.2,708.2 L2888.1,709.3 L2891.9,710.4 L2895.7,711.6 L2899.6,712.7 L2903.4,713.9 L2907.2,715.1 L2911.0,716.3 L2914.9,717.5 L2918.8,718.5 L2922.6,719.5 L2926.5,720.5 L2930.4,721.4 L2934.3,722.2 L2938.3,723.1 L2942.2,723.9 L2946.1,724.7 L2950.0,725.5 L2953.9,726.4 L2957.8,727.3 L2961.7,728.3 L2965.5,729.4 L2969.3,730.7 L2973.1,731.9 L2977.0,733.1 L2980.9,734.0 L2984.8,734.8 L2988.7,735.4 L2992.7,735.9 L2996.7,736.4 L3000.7,736.9 L3004.6,737.3 L3008.6,737.7 L3012.6,738.1 L3016.6,738.5 L3020.6,738.9 L3024.6,739.2 L3028.6,739.5 L3032.6,739.7 L3036.6,740.0 L3040.6,740.2 L3044.6,740.3 L3048.6,740.5 L3052.6,740.7 L3056.6,740.8 L3060.6,740.9 L3064.6,741.0 L3068.6,741.1 L3072.6,741.2 L3076.6,741.3 L3080.6,741.4 L3084.6,741.5 L3088.6,741.5 L3092.6,741.6 L3096.6,741.6 L3100.6,741.7 L3104.6,741.7 L3108.7,741.7 L3112.7,741.8 L3116.7,741.8 L3120.7,741.8 L3124.7,741.8 L3128.7,741.8 L3132.7,741.9 L3136.7,741.9 L3140.7,741.9 L3144.7,741.9 L3148.7,741.9 L3152.7,741.9 L3156.7,741.9 L3160.7,741.9 L3164.7,741.9 L3168.7,741.9 L3172.7,741.9 L3176.8,741.9 L3180.8,741.9 L3184.8,741.9 L3188.8,741.9 L3192.8,741.9 L3196.8,741.9 L3200.8,741.9 L3204.8,741.9 L3208.8,741.9 L3212.8,741.9 L3216.8,741.9 L3220.8,741.8 L3224.8,741.8 L3228.8,741.8 L3232.8,741.8 L3236.8,741.8 L3240.8,741.8 L3244.9,741.8 L3248.9,741.8 L3252.9,741.8 L3256.9,741.7 L3260.9,741.7 L3264.9,741.7 L3268.9,741.7 L3272.9,741.7 L3276.9,741.7 L3280.9,741.7 L3284.9,741.7 L3288.9,741.6 L3292.9,741.6 L3296.9,741.6 L3300.9,741.6 L3304.9,741.6 L3308.9,741.6 L3313.0,741.6 L3317.0,741.6 L3321.0,741.5 L3325.0,741.5 L3329.0,741.5 L3332.9,741.5 L3336.7,741.5 L3339.9,741.5 L3341.0,741.5"/>
</g>
</svg>
</body></html>
